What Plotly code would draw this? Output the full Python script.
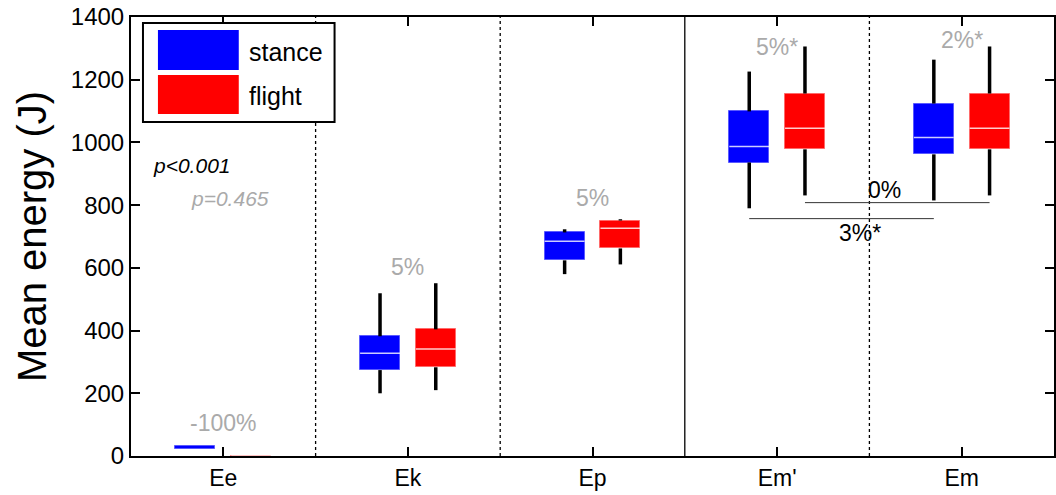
import plotly.graph_objects as go

# Mean energy per gait phase: box statistics (J)
categories = ["Ee", "Ek", "Ep", "Em'", "Em"]

stance_low = [22, 200, 580, 790, 815]
stance_q1 = [22, 274, 624, 936, 962]
stance_med = [27, 328, 685, 987, 1016]
stance_q3 = [31, 382, 713, 1099, 1124]
stance_high = [31, 519, 723, 1226, 1264]

flight_low = [0, 210, 611, 831, 831]
flight_q1 = [0, 283, 662, 978, 978]
flight_med = [0, 341, 726, 1045, 1045]
flight_q3 = [0, 404, 751, 1156, 1156]
flight_high = [0, 551, 755, 1306, 1306]

# percentage change flight vs stance, per category
change_labels = ["-100%", "5%", "5%", "5%*", "2%*"]
change_y = [105, 603, 823, 1304, 1326]

# comparisons between Em' and Em
bracket_flight = {"label": "0%", "y": 808}
bracket_stance = {"label": "3%*", "y": 757}

BLUE = "#0000ff"
RED = "#ff0000"
GRAY = "#aaaaaa"
FONT = "Liberation Sans, Arial, sans-serif"

OFFSET = 0.151
BOX_W = 0.216

fig = go.Figure()


def add_group(pos, low, q1, med, q3, high, color, edge, name):
    xs = [p + OFFSET * pos for p in range(1, len(categories) + 1)]
    # whiskers
    wx, wy = [], []
    for x, lo, a, b, hi in zip(xs, low, q1, q3, high):
        wx += [x, x, None, x, x, None]
        wy += [lo, a, None, b, hi, None]
    fig.add_trace(go.Scatter(x=wx, y=wy, mode="lines", hoverinfo="skip",
                             line=dict(color="black", width=3.5), showlegend=False))
    # boxes
    fig.add_trace(go.Bar(x=xs, y=[b - a for a, b in zip(q1, q3)], base=q1,
                         width=BOX_W, marker=dict(color=color, line=dict(color=edge, width=1)),
                         name=name, showlegend=False))
    # medians (thin boxes keep their own colour)
    mx, my = [], []
    for x, a, m, b in zip(xs, q1, med, q3):
        if b - a >= 10 or b == a:
            mx += [x - BOX_W / 2, x + BOX_W / 2, None]
            my += [m, m, None]
    fig.add_trace(go.Scatter(x=mx, y=my, mode="lines", hoverinfo="skip",
                             line=dict(color="rgba(255,255,255,0.8)", width=1.5),
                             showlegend=False))
    return xs


sx = add_group(-1, stance_low, stance_q1, stance_med, stance_q3, stance_high, BLUE, "#5a5aff", "stance")
fx = add_group(1, flight_low, flight_q1, flight_med, flight_q3, flight_high, RED, "#ff6a6a", "flight")

# category separators
for xs, dash in [(1.5, "dot"), (2.5, "dot"), (3.5, "solid"), (4.5, "dot")]:
    fig.add_shape(type="line", xref="x", yref="paper", x0=xs, x1=xs, y0=0, y1=1,
                  line=dict(color="black", width=1.3, dash=dash), layer="below")

# brackets between Em' and Em
fig.add_shape(type="line", xref="x", yref="y", x0=fx[3], x1=fx[4],
              y0=bracket_flight["y"], y1=bracket_flight["y"], line=dict(color="#333333", width=1))
fig.add_shape(type="line", xref="x", yref="y", x0=sx[3], x1=sx[4],
              y0=bracket_stance["y"], y1=bracket_stance["y"], line=dict(color="#333333", width=1))

annotations = []
for i, (lab, y) in enumerate(zip(change_labels, change_y)):
    annotations.append(dict(x=i + 1, y=y, xref="x", yref="y", text=lab, showarrow=False,
                            font=dict(family=FONT, size=23, color=GRAY)))
annotations.append(dict(x=4.584, y=848, xref="x", yref="y", text=bracket_flight["label"],
                        showarrow=False, font=dict(family=FONT, size=23, color="black")))
annotations.append(dict(x=4.449, y=711, xref="x", yref="y", text=bracket_stance["label"],
                        showarrow=False, font=dict(family=FONT, size=23, color="black")))
annotations.append(dict(x=0.832, y=925, xref="x", yref="y", text="<i>p<0.001</i>",
                        showarrow=False, font=dict(family=FONT, size=21, color="black")))
annotations.append(dict(x=1.038, y=820, xref="x", yref="y", text="<i>p=0.465</i>",
                        showarrow=False, font=dict(family=FONT, size=21, color=GRAY)))

# legend drawn as large colour patches
L, R, T, B = 131, 1056, 17, 456


def px(xp):
    return (xp - L) / (R - L)


def py(yp):
    return (B - yp) / (B - T)


fig.add_shape(type="rect", xref="paper", yref="paper", x0=px(143), x1=px(335), y0=py(122), y1=py(23),
              line=dict(color="black", width=2), fillcolor="white")
fig.add_shape(type="rect", xref="paper", yref="paper", x0=px(158), x1=px(239), y0=py(70), y1=py(30),
              line=dict(width=0), fillcolor=BLUE)
fig.add_shape(type="rect", xref="paper", yref="paper", x0=px(158), x1=px(239), y0=py(114), y1=py(75),
              line=dict(width=0), fillcolor=RED)
annotations.append(dict(x=px(247), y=py(52), xref="paper", yref="paper", text="stance",
                        xanchor="left", yanchor="middle", showarrow=False,
                        font=dict(family=FONT, size=25, color="black")))
annotations.append(dict(x=px(247), y=py(96), xref="paper", yref="paper", text="flight",
                        xanchor="left", yanchor="middle", showarrow=False,
                        font=dict(family=FONT, size=25, color="black")))

fig.update_layout(
    width=1056, height=495,
    margin=dict(l=L, r=1056 - R, t=T, b=495 - B),
    paper_bgcolor="white", plot_bgcolor="white",
    barmode="overlay", bargap=0,
    annotations=annotations,
    font=dict(family=FONT, color="black"),
)
fig.update_xaxes(range=[0.5, 5.5], tickvals=list(range(1, 6)), ticktext=categories,
                 ticks="inside", ticklen=9, tickwidth=1.5, tickcolor="black",
                 showline=True, linecolor="black", linewidth=2, mirror="ticks",
                 showgrid=False, zeroline=False, layer="below traces",
                 tickfont=dict(family=FONT, size=23, color="black"))
fig.update_yaxes(range=[0, 1400], dtick=200, ticks="inside", ticklen=9, tickwidth=1.5,
                 tickcolor="black", showline=True, linecolor="black", linewidth=2,
                 mirror="ticks", showgrid=False, zeroline=False,
                 tickfont=dict(family=FONT, size=24, color="black"),
                 title=dict(text="Mean energy (J)", font=dict(family=FONT, size=40, color="black"),
                            standoff=12))

fig.write_html("out.html")
